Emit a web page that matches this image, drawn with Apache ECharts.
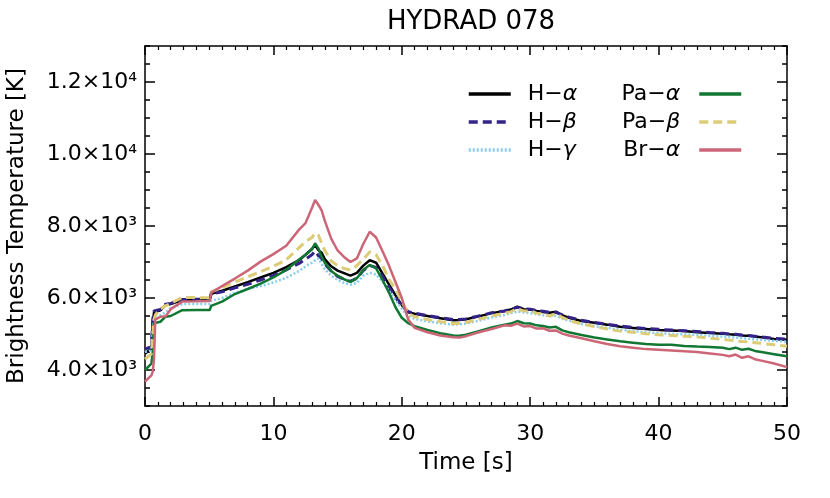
<!DOCTYPE html>
<html>
<head>
<meta charset="utf-8">
<script src="https://cdn.jsdelivr.net/npm/echarts@6/dist/echarts.min.js"></script>
<style>html,body{margin:0;padding:0;background:#fff;}#c{width:830px;height:498px;}</style>
</head>
<body>
<div id="c"></div>
<script>
const times = [0, 0.5, 0.6, 0.7, 0.8, 1.2, 1.6, 2.0, 2.9, 4.0, 5.05, 5.15, 6, 7, 8, 9, 10, 11, 12, 12.5, 13, 13.25, 13.5, 13.75, 14, 14.5, 15, 15.5, 16, 16.5, 17, 17.5, 18, 18.5, 19, 19.5, 20, 20.5, 21, 22, 23, 24, 24.5, 25, 26, 27, 28, 28.5, 29, 29.5, 30, 30.5, 31, 31.5, 32, 32.5, 33, 34, 35, 36, 37, 38, 39, 40, 41, 42, 43, 44, 45, 45.5, 46, 46.5, 47, 47.5, 48, 49, 50];

const hAlpha = [4450, 4600, 5300, 5600, 5630, 5660, 5800, 5830, 5940, 5960, 5970, 6120, 6200, 6320, 6440, 6570, 6700, 6860, 7050, 7200, 7360, 7470, 7330, 7260, 7080, 6880, 6760, 6690, 6620, 6700, 6900, 7050, 6980, 6680, 6380, 6080, 5800, 5600, 5560, 5500, 5440, 5380, 5390, 5410, 5490, 5580, 5640, 5680, 5760, 5690, 5680, 5640, 5610, 5590, 5620, 5520, 5450, 5360, 5310, 5260, 5200, 5170, 5140, 5110, 5100, 5080, 5050, 5030, 5010, 4990, 4980, 4960, 4950, 4930, 4910, 4860, 4840];
const hBeta = [4580, 4650, 5400, 5640, 5660, 5680, 5830, 5850, 5960, 5965, 5965, 6110, 6170, 6280, 6380, 6500, 6620, 6780, 6960, 7080, 7200, 7300, 7180, 7100, 6950, 6750, 6600, 6520, 6460, 6550, 6760, 6900, 6850, 6600, 6300, 6020, 5780, 5620, 5580, 5510, 5450, 5400, 5400, 5420, 5500, 5590, 5640, 5690, 5740, 5700, 5690, 5650, 5630, 5600, 5600, 5530, 5470, 5380, 5320, 5270, 5220, 5180, 5150, 5130, 5110, 5090, 5070, 5040, 5020, 5000, 4990, 4970, 4960, 4940, 4920, 4880, 4860];
const hGamma = [4500, 4550, 5100, 5400, 5440, 5520, 5600, 5720, 5830, 5830, 5830, 5920, 6000, 6140, 6250, 6330, 6430, 6560, 6750, 6880, 6980, 7050, 7100, 6950, 6800, 6620, 6500, 6420, 6370, 6420, 6620, 6700, 6650, 6450, 6200, 5950, 5700, 5480, 5420, 5350, 5300, 5260, 5270, 5290, 5370, 5460, 5530, 5580, 5620, 5600, 5580, 5550, 5520, 5500, 5500, 5430, 5370, 5280, 5220, 5170, 5120, 5080, 5050, 5020, 5000, 4990, 4970, 4950, 4930, 4920, 4900, 4890, 4870, 4850, 4840, 4810, 4790];
const paAlpha = [4000, 4180, 4500, 5300, 5300, 5340, 5480, 5500, 5660, 5670, 5670, 5780, 5900, 6110, 6250, 6400, 6570, 6780, 7070, 7200, 7350, 7520, 7380, 7150, 6980, 6750, 6620, 6520, 6450, 6550, 6780, 6920, 6820, 6500, 6150, 5750, 5450, 5300, 5220, 5110, 5020, 4960, 4950, 4980, 5080, 5180, 5260, 5290, 5360, 5300, 5290, 5240, 5220, 5180, 5200, 5100, 5050, 4970, 4900, 4850, 4800, 4760, 4720, 4700, 4700, 4670, 4650, 4640, 4620, 4580, 4620, 4560, 4590, 4530, 4500, 4440, 4380];
const paBeta = [4300, 4450, 4900, 5400, 5530, 5700, 5780, 5850, 6020, 6010, 6010, 6170, 6280, 6440, 6590, 6730, 6880, 7060, 7400, 7560, 7680, 7800, 7750, 7520, 7320, 7030, 6900, 6820, 6780, 6900, 7080, 7280, 7200, 6900, 6520, 6250, 5900, 5560, 5480, 5400, 5340, 5290, 5300, 5320, 5410, 5500, 5580, 5620, 5700, 5640, 5640, 5580, 5560, 5500, 5560, 5460, 5380, 5280, 5210, 5140, 5080, 5050, 5010, 4980, 4960, 4940, 4920, 4880, 4850, 4830, 4810, 4790, 4780, 4760, 4740, 4700, 4660];
const brAlpha = [3680, 3850, 3950, 4300, 5400, 5480, 5490, 5690, 5900, 5910, 5920, 6150, 6330, 6540, 6760, 7010, 7220, 7450, 7900, 8080, 8500, 8720, 8590, 8440, 8150, 7650, 7320, 7140, 7000, 7100, 7500, 7840, 7680, 7300, 6900, 6450, 6000, 5400, 5170, 5050, 4960, 4910, 4900, 4940, 5050, 5140, 5240, 5230, 5290, 5210, 5220, 5150, 5160, 5090, 5100, 5010, 4960, 4880, 4800, 4720, 4660, 4620, 4580, 4560, 4540, 4520, 4500, 4460, 4420, 4380, 4430, 4340, 4380, 4300, 4260, 4180, 4080];

const seriesNames = ['H−α', 'H−β', 'H−γ', 'Pa−α', 'Pa−β', 'Br−α'];
const seriesValues = [hAlpha, hBeta, hGamma, paAlpha, paBeta, brAlpha];
const yTickValues = [4000, 6000, 8000, 10000, 12000];
const yTickLabels = ['4.0×10³', '6.0×10³', '8.0×10³', '1.0×10⁴', '1.2×10⁴'];
const titleText = 'HYDRAD 078';
const xTitle = 'Time [s]';
const yTitle = 'Brightness Temperature [K]';

const FONT = 'DejaVu Sans';
const styles = [
  {color: '#000000', type: 'solid', width: 2.5},
  {color: '#332288', type: [9, 5], width: 3},
  {color: '#88CCEE', type: [2, 2], width: 2.5},
  {color: '#117733', type: 'solid', width: 2.5},
  {color: '#DDCC77', type: [9, 5], width: 3},
  {color: '#CC6677', type: 'solid', width: 2.5}
];

const chart = echarts.init(document.getElementById('c'), null, {renderer: 'canvas'});

const series = seriesNames.map((name, i) => ({
  name: name,
  type: 'line',
  symbol: 'none',
  xAxisIndex: 0,
  yAxisIndex: 0,
  data: times.map((t, k) => [t, seriesValues[i][k]]),
  lineStyle: {color: styles[i].color, type: styles[i].type, width: styles[i].width},
  itemStyle: {color: styles[i].color},
  animation: false,
  z: 2 + i
}));

const greekFmt = name => name.replace(/([αβγ])/, '{g|$1}');
const legendText = pad => ({
  fontFamily: FONT, fontSize: 22, color: '#000', padding: pad,
  rich: {g: {fontFamily: FONT, fontSize: 22, fontStyle: 'italic', color: '#000'}}
});

const axisLineStyle = {color: '#000', width: 1.5};

const option = {
  backgroundColor: '#fff',
  animation: false,
  title: {
    text: titleText, left: 466, top: 4, textAlign: 'center',
    textStyle: {fontFamily: FONT, fontSize: 26, fontWeight: 'normal', color: '#000'}
  },
  legend: [
    {
      data: seriesNames.slice(0, 3), orient: 'vertical', left: 467, top: 83, padding: 0,
      itemWidth: 42, itemHeight: 14, itemGap: 6, align: 'left',
      itemStyle: {opacity: 0}, lineStyle: {width: 3.5},
      formatter: greekFmt, textStyle: legendText([0, 0, 0, 12]), selectedMode: false
    },
    {
      data: seriesNames.slice(3), orient: 'vertical', right: 87, top: 83, padding: 0,
      itemWidth: 42, itemHeight: 14, itemGap: 6, align: 'right',
      itemStyle: {opacity: 0}, lineStyle: {width: 3.5},
      formatter: greekFmt, textStyle: legendText([0, 14, 0, 0]), selectedMode: false
    }
  ],
  grid: {left: 145, right: 43, top: 46, bottom: 92, containLabel: false, outerBoundsMode: 'none'},
  xAxis: [
    {
      type: 'value', position: 'bottom', min: 0, max: 50, interval: 10,
      name: xTitle, nameLocation: 'middle', nameGap: 46,
      nameTextStyle: {fontFamily: FONT, fontSize: 23, color: '#000'},
      axisLine: {show: true, lineStyle: axisLineStyle},
      axisTick: {show: true, inside: true, length: 9, lineStyle: axisLineStyle},
      minorTick: {show: true, splitNumber: 10, length: 4, lineStyle: {color: '#000', width: 1.2}},
      axisLabel: {fontFamily: FONT, fontSize: 22, color: '#000', margin: 17},
      splitLine: {show: false}
    },
    {
      type: 'value', position: 'top', min: 0, max: 50, interval: 10,
      axisLine: {show: true, lineStyle: axisLineStyle},
      axisTick: {show: true, inside: true, length: 9, lineStyle: axisLineStyle},
      minorTick: {show: true, splitNumber: 10, length: 4, lineStyle: {color: '#000', width: 1.2}},
      axisLabel: {show: false}, splitLine: {show: false}
    }
  ],
  yAxis: [
    {
      type: 'value', position: 'left', min: 3000, max: 13000, interval: 500,
      name: yTitle, nameLocation: 'middle', nameGap: 116,
      nameTextStyle: {fontFamily: FONT, fontSize: 23, color: '#000'},
      axisLine: {show: true, lineStyle: axisLineStyle},
      axisTick: {show: true, inside: true, length: 5, lineStyle: axisLineStyle},
      axisLabel: {
        customValues: yTickValues, fontFamily: FONT, fontSize: 22, color: '#000', margin: 8,
        formatter: v => yTickLabels[yTickValues.indexOf(v)]
      },
      splitLine: {show: false}
    },
    {
      type: 'value', position: 'left', min: 3000, max: 13000,
      axisLine: {show: false},
      axisTick: {show: true, inside: true, length: 10, customValues: yTickValues, lineStyle: axisLineStyle},
      axisLabel: {show: false}, splitLine: {show: false}
    },
    {
      type: 'value', position: 'right', min: 3000, max: 13000, interval: 500,
      axisLine: {show: true, lineStyle: axisLineStyle},
      axisTick: {show: true, inside: true, length: 5, lineStyle: axisLineStyle},
      axisLabel: {show: false}, splitLine: {show: false}
    },
    {
      type: 'value', position: 'right', min: 3000, max: 13000,
      axisLine: {show: false},
      axisTick: {show: true, inside: true, length: 10, customValues: yTickValues, lineStyle: axisLineStyle},
      axisLabel: {show: false}, splitLine: {show: false}
    }
  ],
  series: series
};
chart.setOption(option);
</script>
</body>
</html>
